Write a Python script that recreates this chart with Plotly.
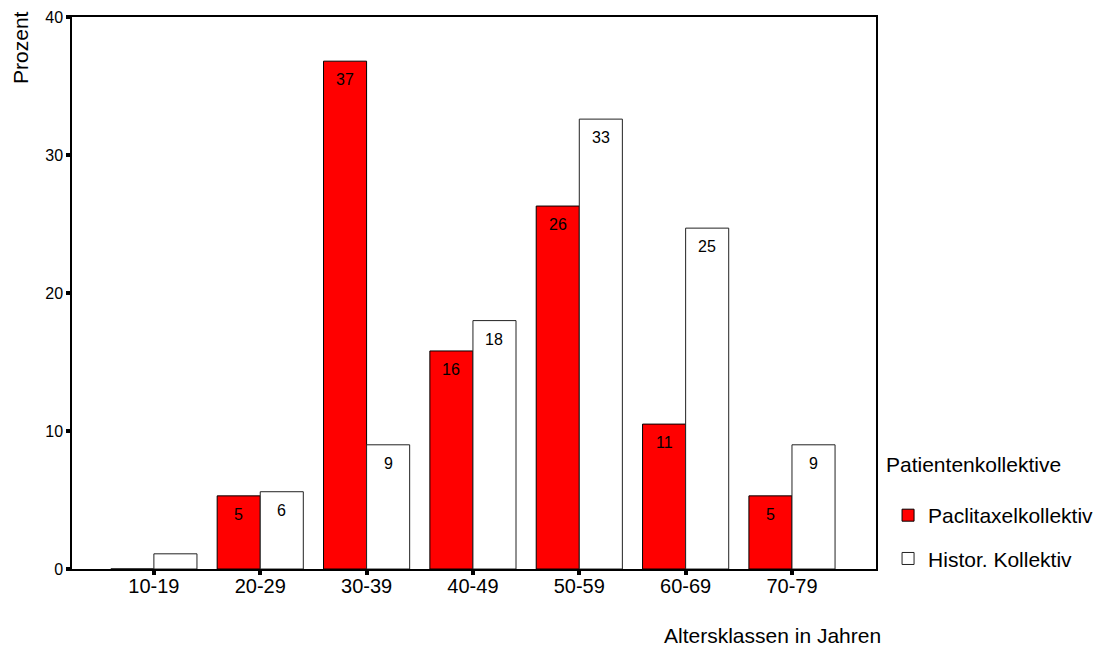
import plotly.graph_objects as go

categories = ["10-19", "20-29", "30-39", "40-49", "50-59", "60-69", "70-79"]
paclitaxel = [0.0, 5.3, 36.8, 15.8, 26.3, 10.5, 5.3]
historisch = [1.1, 5.6, 9.0, 18.0, 32.6, 24.7, 9.0]
paclitaxel_labels = ["", "5", "37", "16", "26", "11", "5"]
historisch_labels = ["", "6", "9", "18", "33", "25", "9"]
y_ticks = [0, 10, 20, 30, 40]

FONT = "Liberation Sans, Arial, sans-serif"

fig = go.Figure()
fig.add_trace(go.Bar(
    x=categories, y=paclitaxel, name="Paclitaxelkollektiv",
    marker=dict(color="#ff0000", line=dict(color="#000000", width=1)),
    legendgroup="a",
))
fig.add_trace(go.Bar(
    x=categories, y=historisch, name="Histor. Kollektiv",
    marker=dict(color="#ffffff", line=dict(color="#222222", width=1)),
    legendgroup="b",
))

annotations = []
for cat, val, lab in zip(categories, paclitaxel, paclitaxel_labels):
    if lab:
        annotations.append(dict(x=cat, y=val, xref="x", yref="y", text=lab,
                                showarrow=False, xshift=-21.5, yshift=-8,
                                yanchor="top", xanchor="center",
                                font=dict(family=FONT, size=16, color="black")))
for cat, val, lab in zip(categories, historisch, historisch_labels):
    if lab:
        annotations.append(dict(x=cat, y=val, xref="x", yref="y", text=lab,
                                showarrow=False, xshift=21.5, yshift=-8,
                                yanchor="top", xanchor="center",
                                font=dict(family=FONT, size=16, color="black")))

# plot area: 804 x 552 px
annotations.append(dict(x=-0.0634, y=0.944, xref="paper", yref="paper",
                        text="Prozent", textangle=-90, showarrow=False,
                        xanchor="center", yanchor="middle",
                        font=dict(family=FONT, size=21, color="black")))
annotations.append(dict(x=0.871, y=-0.121, xref="paper", yref="paper",
                        text="Altersklassen in Jahren", showarrow=False,
                        xanchor="center", yanchor="middle",
                        font=dict(family=FONT, size=21, color="black")))
annotations.append(dict(x=1.01, y=0.19, xref="paper", yref="paper",
                        text="Patientenkollektive", showarrow=False,
                        xanchor="left", yanchor="middle",
                        font=dict(family=FONT, size=21, color="black")))

fig.update_layout(
    width=1096, height=642,
    margin=dict(l=64, r=228, t=9, b=81, autoexpand=False),
    paper_bgcolor="white", plot_bgcolor="white",
    barmode="group", bargap=0.19, bargroupgap=0,
    font=dict(family=FONT, color="black"),
    showlegend=True,
    legend=dict(
        font=dict(family=FONT, size=21),
        x=1.015, xanchor="left", y=0.134, yanchor="top",
        tracegroupgap=13, itemwidth=30,
        bgcolor="rgba(0,0,0,0)",
    ),
    annotations=annotations,
)
fig.update_xaxes(
    range=[-0.77, 6.79], showgrid=False, zeroline=False,
    showline=True, linecolor="black", linewidth=1.5, mirror=True,
    ticks="outside", ticklen=4, tickwidth=4, tickcolor="black",
    tickfont=dict(family=FONT, size=20), ticklabelstandoff=-6,
)
fig.update_yaxes(
    range=[0, 40], tickvals=y_ticks, showgrid=False, zeroline=False,
    showline=True, linecolor="black", linewidth=1.5, mirror=True,
    ticks="outside", ticklen=4, tickwidth=4, tickcolor="black",
    tickfont=dict(family=FONT, size=16),
)

fig.write_html("out.html")
